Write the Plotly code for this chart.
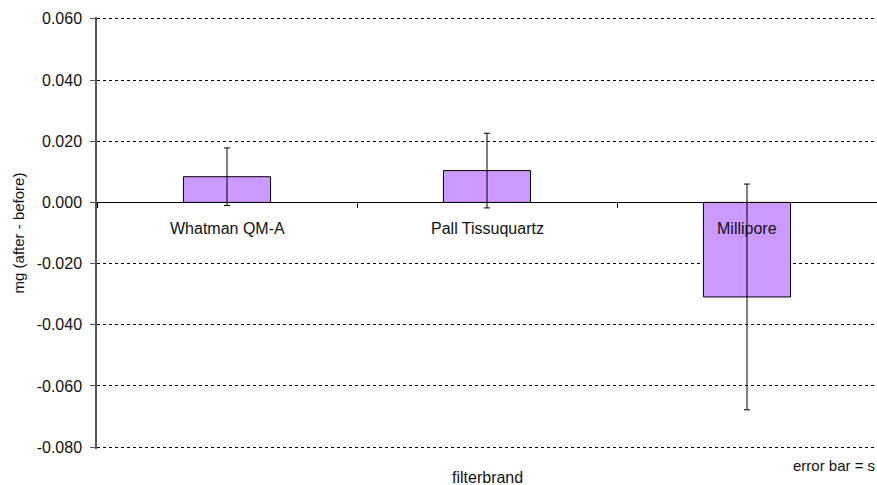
import plotly.graph_objects as go

categories = ["Whatman QM-A", "Pall Tissuquartz", "Millipore"]
values = [0.0084, 0.0104, -0.0309]
errors = [0.0094, 0.0122, 0.0369]
tick_vals = [0.06, 0.04, 0.02, 0.0, -0.02, -0.04, -0.06, -0.08]
tick_labels = ["0.060", "0.040", "0.020", "0.000", "-0.020", "-0.040", "-0.060", "-0.080"]
y_min, y_max = -0.0806, 0.0606

FONT = "Liberation Sans, Arial, sans-serif"

fig = go.Figure()
fig.add_trace(go.Bar(
    x=categories, y=values,
    width=0.335,
    marker=dict(color="#CC99FF", line=dict(color="black", width=1)),
    error_y=dict(type="data", array=errors, visible=True, color="black", thickness=1, width=3),
    showlegend=False,
))

for c in categories:
    fig.add_annotation(x=c, y=0, xref="x", yref="y", text=c, showarrow=False,
                       yanchor="top", yshift=-16, font=dict(family=FONT, size=16, color="#111"))

fig.add_annotation(x=0.5, y=-0.065, xref="paper", yref="paper", yanchor="middle", text="filterbrand",
                   showarrow=False, font=dict(family=FONT, size=16, color="#111"))
fig.add_annotation(x=1, y=-0.038, xref="paper", yref="paper", xanchor="right", yanchor="middle",
                   text="error bar = s", showarrow=False, font=dict(family=FONT, size=15, color="#111"))

fig.update_layout(
    width=877, height=485,
    margin=dict(l=97, r=0, t=17, b=36),
    plot_bgcolor="white", paper_bgcolor="white",
    font=dict(family=FONT, size=16, color="#111"),
    xaxis=dict(
        type="category", range=[-0.5, 2.5],
        anchor="free", position=(0 - y_min) / (y_max - y_min),
        showline=True, linecolor="black", linewidth=1,
        ticks="outside", tickson="boundaries", ticklen=5, tickcolor="black",
        showticklabels=False, showgrid=False, zeroline=False,
    ),
    yaxis=dict(
        range=[y_min, y_max],
        tickvals=tick_vals, ticktext=tick_labels,
        showline=True, linecolor="#555", linewidth=1.5,
        ticks="outside", ticklen=5, tickcolor="#555",
        ticklabelstandoff=5,
        showgrid=True, gridcolor="black", gridwidth=1.3, griddash="dot",
        zeroline=False,
        title=dict(text="mg (after - before)", font=dict(size=15), standoff=8),
        tickfont=dict(size=16),
    ),
)

fig.write_html("out.html", config={"displayModeBar": False},
               post_script="document.body.style.margin='0';document.body.style.overflow='hidden';")
